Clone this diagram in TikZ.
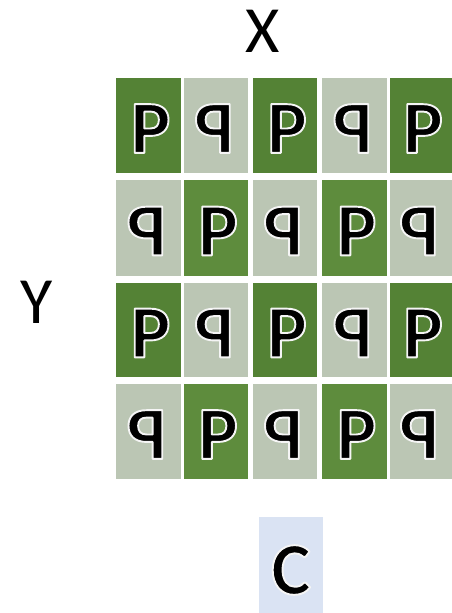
\documentclass[tikz,border=0pt]{standalone}
\usepackage{fontspec}
\setmainfont{Carlito}
\definecolor{gdark}{HTML}{548235}
\definecolor{glight}{HTML}{5E8C3D}
\definecolor{ggray}{HTML}{BBC6B4}
\definecolor{cblue}{HTML}{DAE3F3}
\tikzset{
  axislabel/.style={font=\fontsize{66}{66}\selectfont, inner sep=0pt},
  glyph/.style={inner sep=0pt, text=black, font=\fontsize{75}{75}\selectfont\bfseries},
}
\newcommand{\outl}[1]{\special{pdf:literal direct 2 Tr 1.9 w 0.96 0.96 0.96 RG 1 j}#1\special{pdf:literal direct 0 Tr}}
\begin{document}
\begin{tikzpicture}[x=1pt,y=-1pt]
\useasboundingbox (0,0) rectangle (452,613);
\fill[white] (0,0) rectangle (452,613);
\def\colL{{116,184,253,322,390}}
\def\colR{{181,248,317,387,452}}
\def\rowT{{78,180,283,384}}
\def\rowB{{173,276,377,479}}
\foreach \r in {0,1,2,3}{
  \foreach \c in {0,1,2,3,4}{
    \pgfmathsetmacro{\xl}{\colL[\c]}
    \pgfmathsetmacro{\xr}{\colR[\c]}
    \pgfmathsetmacro{\yt}{\rowT[\r]}
    \pgfmathsetmacro{\yb}{\rowB[\r]}
    \pgfmathtruncatemacro{\isp}{mod(\r+\c+1,2)}
    \pgfmathtruncatemacro{\odd}{mod(\r,2)}
    \ifnum\isp=1
      \ifnum\odd=0
        \fill[gdark] (\xl,\yt) rectangle (\xr,\yb);
      \else
        \fill[glight] (\xl,\yt) rectangle (\xr,\yb);
      \fi
      \node[glyph] (p\r\c) at ({(\xl+\xr)/2+2},{(\yt+\yb)/2+3}) {\outl{P}};
    \else
      \fill[ggray] (\xl,\yt) rectangle (\xr,\yb);
      \node[glyph, xscale=-1] (p\r\c) at ({(\xl+\xr)/2-2},{(\yt+\yb)/2+3}) {\outl{P}};
    \fi
  }
}
\node[axislabel] (X) at (263,31) {X};
\node[axislabel] (Y) at (37,302) {Y};
\fill[cblue] (259,517) rectangle (323,613);
\node[glyph] (C) at (291,570) {\outl{C}};
\end{tikzpicture}
\end{document}
